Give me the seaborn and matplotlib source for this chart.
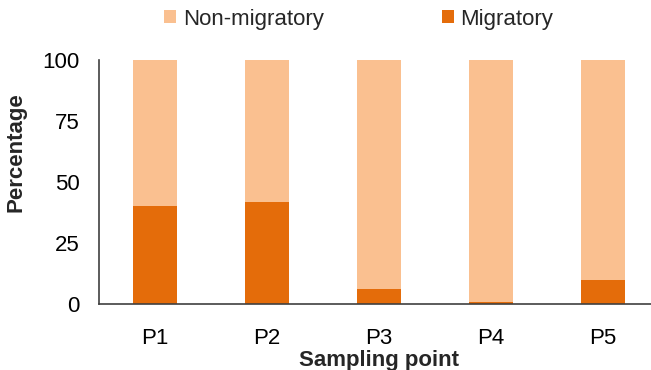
import numpy as np
import pandas as pd
import matplotlib
matplotlib.use("Agg")
import matplotlib.pyplot as plt
from matplotlib.patches import Patch
import seaborn as sns

# ==========================================
# Data
# ==========================================
points = ["P1", "P2", "P3", "P4", "P5"]
migratory = [40, 42, 6, 0.7, 10]
non_migratory = [60, 58, 94, 99.3, 90]
total = [m + n for m, n in zip(migratory, non_migratory)]

LIGHT = "#FAC090"
DARK = "#E46C0A"

# ==========================================
# Style
# ==========================================
sns.set_theme(style="white")
plt.rcParams.update({
	"font.family": ["Liberation Sans", "DejaVu Sans"],
	"font.size": 16,
	"axes.edgecolor": "#404040",
	"axes.linewidth": 1.2,
	"xtick.direction": "in",
	"ytick.direction": "in",
})

df = pd.DataFrame({"point": points, "migratory": migratory, "total": total})

fig = plt.figure(figsize=(6.51, 3.70), dpi=100)
ax = fig.add_axes([99 / 651, 66 / 370, 560 / 651, 244 / 370])

# stacked bars: full height first (non-migratory), migratory drawn over it
sns.barplot(data=df, x="point", y="total", color=LIGHT, width=0.4,
			saturation=1, linewidth=0, ax=ax)
sns.barplot(data=df, x="point", y="migratory", color=DARK, width=0.4,
			saturation=1, linewidth=0, ax=ax)

ax.set_xlim(-0.5, 4.5)
ax.set_ylim(0, 100)
ax.set_yticks([0, 25, 50, 75, 100])
ax.tick_params(axis="y", length=6, width=1.2, color="#404040", pad=14,
			   labelsize=16, labelcolor="black")
ax.tick_params(axis="x", which="major", length=0, pad=17, labelsize=16,
			   labelcolor="black")
ax.set_xticks(np.arange(-0.5, 5, 1), minor=True)
ax.tick_params(axis="x", which="minor", length=6, width=1.2, color="#404040")

for s in ["top", "right"]:
	ax.spines[s].set_visible(False)

ax.set_xlabel("Sampling point", fontsize=16, weight="bold", labelpad=1)
ax.set_ylabel("Percentage", fontsize=16, weight="bold")
ax.yaxis.set_label_coords((27 - 99) / 560, (304 - 152) / 244)

handles = [Patch(facecolor=LIGHT, edgecolor="none"),
		   Patch(facecolor=DARK, edgecolor="none")]
fig.legend(handles, ["Non-migratory", "Migratory"], ncol=2, frameon=False,
		   loc="center left", bbox_to_anchor=(164 / 651, 1 - 19 / 370),
		   borderpad=0, borderaxespad=0, handlelength=0.55, handleheight=0.55,
		   handletextpad=0.3, columnspacing=5.3, fontsize=16)

fig.savefig("out.png", dpi=100)
